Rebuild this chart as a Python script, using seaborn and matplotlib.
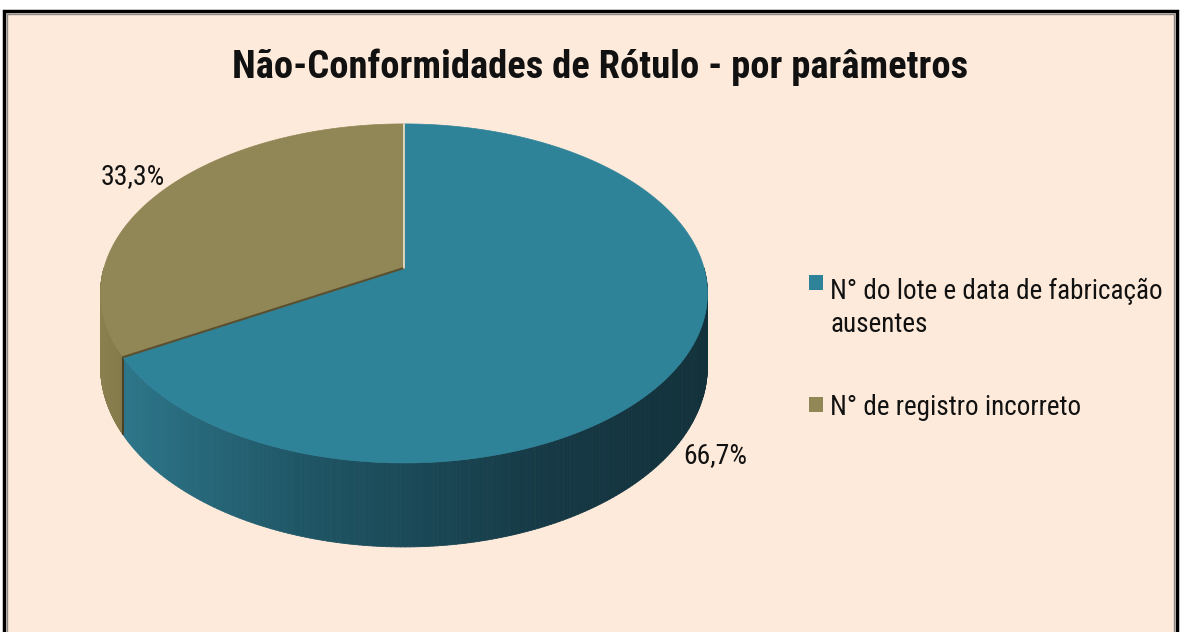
import numpy as np
import matplotlib
matplotlib.use("Agg")
import matplotlib.pyplot as plt
import seaborn as sns
from matplotlib.patches import Rectangle, Polygon
from matplotlib.collections import PolyCollection
from matplotlib import font_manager

# ---------------- data ----------------
categories = ["N° do lote e data de fabricação\nausentes", "N° de registro incorreto"]
values = [66.7, 33.3]
pct_labels = ["66,7%", "33,3%"]
title = "Não-Conformidades de Rótulo - por parâmetros"
top_colors = ["#2f8399", "#918655"]

sns.set_theme(style="white")
avail = {f.name for f in font_manager.fontManager.ttflist}
fam = [f for f in ["Roboto Condensed", "Liberation Sans Narrow", "Open Sans", "DejaVu Sans"] if f in avail]
plt.rcParams["font.family"] = fam

W, H = 1180, 632
fig = plt.figure(figsize=(W / 100, H / 100), dpi=100, facecolor="white")
ax = fig.add_axes([0, 0, 1, 1])
ax.set_xlim(0, W)
ax.set_ylim(H, 0)
ax.axis("off")

BG = "#fdeadb"
# chart area frame
ax.add_patch(Rectangle((4, 11), 1173, 640, facecolor=BG, edgecolor="black", lw=2.5, zorder=0))
ax.add_patch(Rectangle((7, 13.5), 1167, 640, facecolor="none", edgecolor="#8a8a8a", lw=1, zorder=0))

# ---------------- 3D pie geometry ----------------
CX, CY = 404, 268
B, A, K, D = 300.0, 165.7, 0.15, 71.4


def proj(phi, h=0.0):
    u = np.sin(phi)
    v = -np.cos(phi)
    den = 1 - K * v
    return CX + B * u / den, CY + (A * v + D * h) / den


fr = np.array(values) / np.sum(values)
starts = np.concatenate([[0], np.cumsum(fr)[:-1]]) * 2 * np.pi
ends = np.cumsum(fr) * 2 * np.pi

# side gradients (colour vs screen x)
grad = {
    0: ([120, 300, 550, 710], np.array([[45, 118, 138], [31, 86, 102], [22, 57, 69], [18, 49, 59]]) / 255),
    1: ([95, 135], np.array([[140, 129, 80], [128, 117, 71]]) / 255),
}

for i in range(len(values)):
    a0 = max(starts[i], np.pi / 2)
    a1 = min(ends[i], 1.5 * np.pi)
    if a1 <= a0:
        continue
    ph = np.linspace(a0, a1, 200)
    polys, cols = [], []
    for p0, p1 in zip(ph[:-1], ph[1:]):
        x0, y0 = proj(p0)
        x1, y1 = proj(p1)
        x2, y2 = proj(p1, 1)
        x3, y3 = proj(p0, 1)
        polys.append([(x0, y0), (x1, y1), (x2, y2), (x3, y3)])
        xm = (x0 + x1) / 2
        xs, cs = grad[i]
        cols.append([np.interp(xm, xs, cs[:, k]) for k in range(3)])
    pc = PolyCollection(polys, facecolors=cols, edgecolors=cols, linewidths=0.6, zorder=2)
    ax.add_collection(pc)

# dark edge on side where the slices meet
xa, ya = proj(ends[0])
xb, yb = proj(ends[0], 1)
ax.plot([xa, xb], [ya, yb], color="#4a4328", lw=1.5, zorder=3)

# top faces
for i in range(len(values)):
    ph = np.linspace(starts[i], ends[i], 300)
    xs, ys = proj(ph)
    pts = [(CX, CY)] + list(zip(xs, ys))
    ax.add_patch(Polygon(pts, closed=True, facecolor=top_colors[i], edgecolor=top_colors[i], lw=0.5, zorder=4))

# radial edges on top
xa, ya = proj(ends[0])
ax.plot([CX, xa], [CY, ya], color="#5a5030", lw=1.5, zorder=5)
xa, ya = proj(0.0)
ax.plot([CX, xa], [CY, ya], color="#efe3cf", lw=1.2, zorder=5)

# percentage labels
ax.text(715, 463, pct_labels[0], fontsize=20, ha="center", va="baseline", color="#111111", zorder=6)
ax.text(133, 184, pct_labels[1], fontsize=20, ha="center", va="baseline", color="#111111", zorder=6)

# title
ax.text(600, 78, title, fontsize=27.8, fontweight="bold", ha="center", va="baseline", color="#111111")

# legend (drawn manually to match the original placement)
first_baselines = [293, 415]
line_step = 39
for c, lab, yb in zip(top_colors, categories, first_baselines):
    n_extra = lab.count("\n")
    ax.add_patch(Rectangle((809, yb - 18), 14, 15, facecolor=c, edgecolor="none", zorder=6))
    ax.text(830, yb + n_extra * line_step, lab, fontsize=19.5, ha="left", va="baseline",
            color="#111111", linespacing=1.27, zorder=6)

fig.savefig("out.png", dpi=100, facecolor="white")
